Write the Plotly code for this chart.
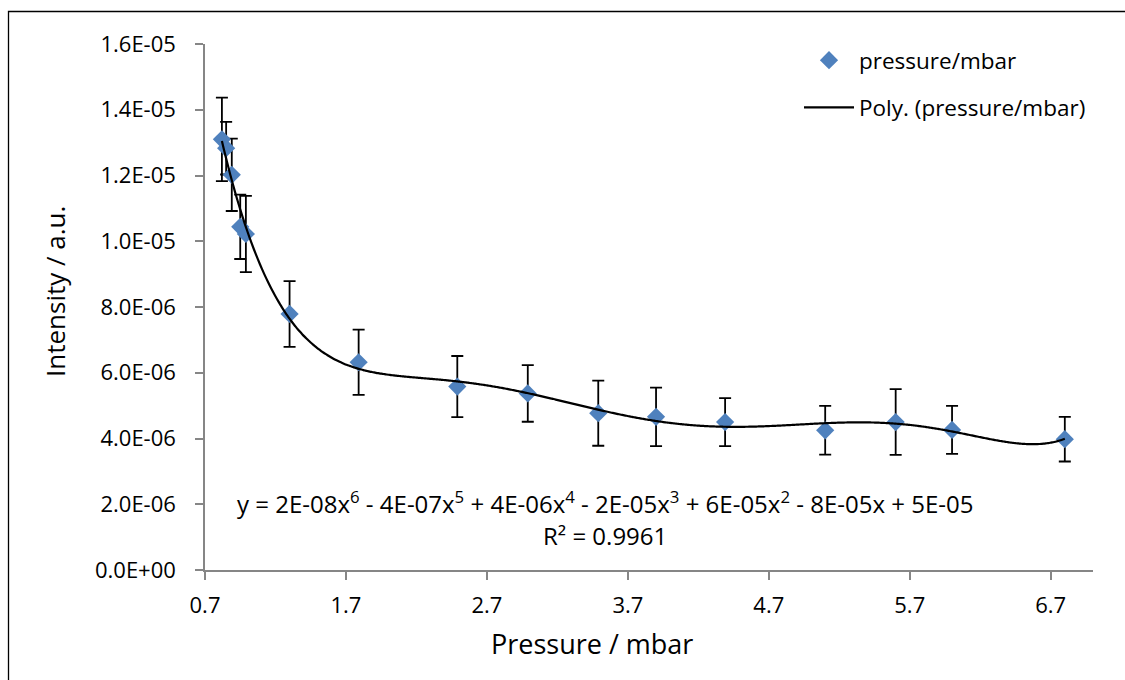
import numpy as np
import plotly.graph_objects as go

# ---- data ----
pressure = [0.82, 0.85, 0.89, 0.95, 0.99, 1.30, 1.79, 2.49, 2.99, 3.49, 3.90, 4.39, 5.10, 5.60, 6.00, 6.80]
intensity = [13.10e-6, 12.83e-6, 12.02e-6, 10.44e-6, 10.22e-6, 7.79e-6, 6.32e-6, 5.58e-6,
             5.37e-6, 4.77e-6, 4.66e-6, 4.50e-6, 4.25e-6, 4.50e-6, 4.26e-6, 3.98e-6]
error = [1.27e-6, 0.80e-6, 1.10e-6, 0.98e-6, 1.16e-6, 1.00e-6, 0.99e-6, 0.93e-6,
         0.86e-6, 0.99e-6, 0.89e-6, 0.73e-6, 0.74e-6, 1.00e-6, 0.73e-6, 0.68e-6]

x_ticks = [0.7, 1.7, 2.7, 3.7, 4.7, 5.7, 6.7]
x_ticklabels = ["0.7", "1.7", "2.7", "3.7", "4.7", "5.7", "6.7"]
y_ticks = [0, 2e-6, 4e-6, 6e-6, 8e-6, 1e-5, 1.2e-5, 1.4e-5, 1.6e-5]
y_ticklabels = ["0.0E+00", "2.0E-06", "4.0E-06", "6.0E-06", "8.0E-06",
                "1.0E-05", "1.2E-05", "1.4E-05", "1.6E-05"]

equation = ("y = 2E-08x<sup>6</sup> - 4E-07x<sup>5</sup> + 4E-06x<sup>4</sup> - 2E-05x<sup>3</sup>"
            " + 6E-05x<sup>2</sup> - 8E-05x + 5E-05")
r2_text = "R² = 0.9961"

# 6th-order polynomial trendline fitted to the data (as the spreadsheet does)
px = np.array(pressure)
py = np.array(intensity)
xs = (px - px.mean()) / px.std()
coef = np.polyfit(xs, py, 6)
x_fit = np.linspace(px.min(), px.max(), 400)
y_fit = np.polyval(coef, (x_fit - px.mean()) / px.std())

FONT = "Open Sans"
W, H = 1125, 680
L, R, T, B = 205, 32, 44, 110
pw, ph = W - L - R, H - T - B

fig = go.Figure()
fig.add_trace(go.Scatter(
    x=pressure, y=intensity, mode="markers", name="pressure/mbar",
    legendgroup="a",
    marker=dict(symbol="diamond", size=14, color="#4F81BD"),
    error_y=dict(type="data", array=error, visible=True, color="black",
                 thickness=1.8, width=6),
))
fig.add_trace(go.Scatter(
    x=x_fit, y=y_fit, mode="lines", name="Poly. (pressure/mbar)",
    legendgroup="b",
    line=dict(color="black", width=2.2, shape="spline"),
))

def paper_x(p):
    return (p - L) / pw

def paper_y(p):
    return (H - B - p) / ph

fig.add_annotation(x=paper_x(605), y=paper_y(502), xref="paper", yref="paper",
                   text=equation, showarrow=False, xanchor="center", yanchor="middle",
                   font=dict(family=FONT, size=24, color="black"))
fig.add_annotation(x=paper_x(605), y=paper_y(535), xref="paper", yref="paper",
                   text=r2_text, showarrow=False, xanchor="center", yanchor="middle",
                   font=dict(family=FONT, size=24, color="black"))
fig.add_annotation(x=paper_x(592), y=paper_y(643), xref="paper", yref="paper",
                   text="Pressure / mbar", showarrow=False, xanchor="center", yanchor="middle",
                   font=dict(family=FONT, size=27, color="black"))
fig.add_annotation(x=paper_x(55), y=paper_y(292), xref="paper", yref="paper",
                   text="Intensity / a.u.", showarrow=False, textangle=-90,
                   xanchor="center", yanchor="middle",
                   font=dict(family=FONT, size=26, color="black"))

# outer chart border
fig.add_shape(type="rect", xref="paper", yref="paper",
              x0=paper_x(8.5), x1=paper_x(1140), y0=paper_y(11.5), y1=paper_y(700),
              line=dict(color="black", width=1.3), fillcolor="rgba(0,0,0,0)", layer="below")

axis_common = dict(showgrid=False, zeroline=False, showline=True, linecolor="#868686",
                   linewidth=1.5, ticks="outside", tickcolor="#868686", ticklen=8,
                   tickwidth=1.5, tickfont=dict(family=FONT, size=22, color="black"))

fig.update_xaxes(range=[0.7, 7.0], tickvals=x_ticks, ticktext=x_ticklabels,
                 ticklabelstandoff=7, **axis_common)
fig.update_yaxes(range=[0, 1.6e-5], tickvals=y_ticks, ticktext=y_ticklabels,
                 ticklabelstandoff=15, **axis_common)

fig.update_layout(
    width=W, height=H,
    margin=dict(l=L, r=R, t=T, b=B),
    paper_bgcolor="white", plot_bgcolor="white",
    font=dict(family=FONT, size=22, color="black"),
    showlegend=True,
    legend=dict(x=paper_x(799), y=paper_y(39), xanchor="left", yanchor="top",
                bgcolor="rgba(0,0,0,0)", tracegroupgap=15, itemwidth=50,
                font=dict(family=FONT, size=22.5, color="black")),
)

fig.write_html("out.html")
